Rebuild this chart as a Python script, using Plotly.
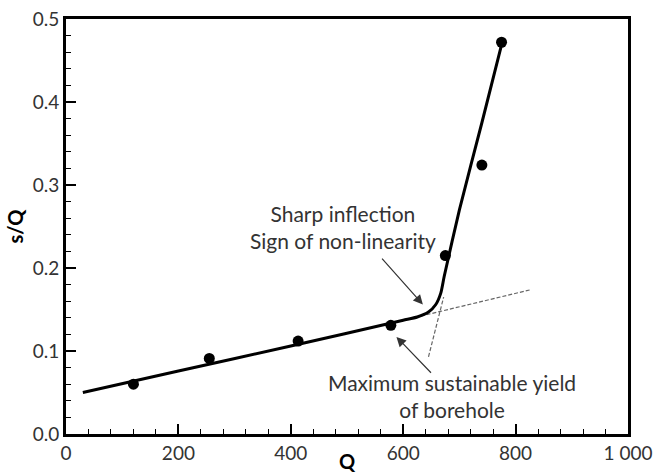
import plotly.graph_objects as go

# Measured data points
q_pts = [120, 255, 413, 578, 675, 740, 775]
sq_pts = [0.060, 0.091, 0.112, 0.131, 0.215, 0.324, 0.472]

# Fitted curve (solid)
fit_q = [30, 200, 400, 600, 625, 645, 658, 667, 673, 700, 740, 778]
fit_sq = [0.050, 0.076, 0.106, 0.137, 0.141, 0.147, 0.156, 0.170, 0.190, 0.270, 0.375, 0.477]

# Extrapolated linear trend (dashed)
lin_q = [600, 828]
lin_sq = [0.137, 0.174]

# Extrapolated steep trend (dashed)
steep_q = [645, 672]
steep_sq = [0.093, 0.165]

x_ticks = [0, 200, 400, 600, 800, 1000]
x_ticktext = ["0", "200", "400", "600", "800", "1 000"]
y_ticks = [0.0, 0.1, 0.2, 0.3, 0.4, 0.5]
y_ticktext = ["0.0", "0.1", "0.2", "0.3", "0.4", "0.5"]

FONT = "Lato, 'Open Sans', sans-serif"

fig = go.Figure()
fig.add_trace(go.Scatter(x=lin_q, y=lin_sq, mode="lines",
                         line=dict(color="#666", width=1.2, dash="4px,2px"),
                         hoverinfo="skip", showlegend=False))
fig.add_trace(go.Scatter(x=steep_q, y=steep_sq, mode="lines",
                         line=dict(color="#666", width=1.2, dash="4px,2px"),
                         hoverinfo="skip", showlegend=False))
fig.add_trace(go.Scatter(x=fit_q, y=fit_sq, mode="lines",
                         line=dict(color="black", width=3, shape="spline", smoothing=0.6),
                         showlegend=False))
fig.add_trace(go.Scatter(x=q_pts, y=sq_pts, mode="markers",
                         marker=dict(color="black", size=11),
                         showlegend=False))

fig.add_annotation(x=635, y=0.156, ax=560, ay=0.213, xref="x", yref="y", axref="x", ayref="y",
                   showarrow=True, arrowhead=2, arrowsize=1.6, arrowwidth=1.2, arrowcolor="#333", text="")
fig.add_annotation(x=588, y=0.117, ax=652, ay=0.072, xref="x", yref="y", axref="x", ayref="y",
                   showarrow=True, arrowhead=2, arrowsize=1.6, arrowwidth=1.2, arrowcolor="#333", text="")

fig.add_annotation(x=492, y=0.25, xref="x", yref="y", showarrow=False,
                   text="Sharp inflection<br>Sign of non-linearity",
                   font=dict(family=FONT, size=21, color="#333"), align="center")
fig.add_annotation(x=686, y=0.046, xref="x", yref="y", showarrow=False,
                   text="Maximum sustainable yield<br>of borehole",
                   font=dict(family=FONT, size=21, color="#333"), align="center")

# x-axis title placed as text just below the tick labels
fig.add_annotation(x=0.5, y=-0.066, xref="paper", yref="paper", showarrow=False,
                   text="<b>Q</b>", font=dict(family=FONT, size=20, color="black"),
                   xanchor="center", yanchor="middle")

axis_common = dict(showgrid=False, zeroline=False, showline=True, linecolor="black",
                   linewidth=3, mirror=True, ticks="inside", tickcolor="black",
                   tickwidth=2, ticklen=10, automargin=False,
                   tickfont=dict(family=FONT, size=19, color="#333"))

fig.update_xaxes(range=[0, 1000], tickvals=x_ticks, ticktext=x_ticktext,
                 minor=dict(dtick=40, tick0=0, ticks="inside", ticklen=5, tickwidth=1, tickcolor="black"),
                 **axis_common)
fig.update_yaxes(range=[0, 0.5], tickvals=y_ticks, ticktext=y_ticktext,
                 minor=dict(dtick=0.02, tick0=0, ticks="inside", ticklen=5, tickwidth=1, tickcolor="black"),
                 title=dict(text="<b>s/Q</b>", font=dict(family=FONT, size=20, color="black"), standoff=4),
                 **axis_common)

fig.update_layout(width=655, height=475, margin=dict(l=66, r=27, t=19, b=41),
                  plot_bgcolor="white", paper_bgcolor="white")

fig.write_html("out.html", config={"displayModeBar": False},
               post_script="document.body.style.margin='0';document.body.style.overflow='hidden';")
